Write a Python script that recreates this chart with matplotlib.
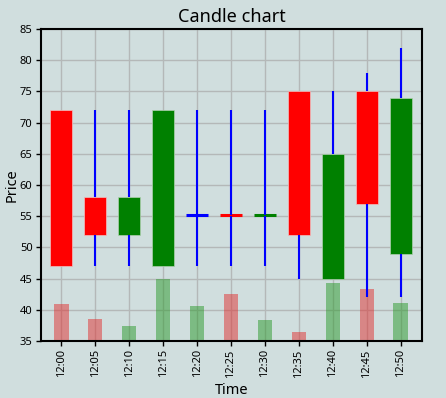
import numpy as np
import matplotlib.pyplot as plt

plt.rcParams['font.family'] = ['Noto Sans', 'DejaVu Sans']

# Data
times = ["12:00", "12:05", "12:10", "12:15", "12:20", "12:25",
         "12:30", "12:35", "12:40", "12:45", "12:50"]
opens = [72, 58, 52, 47, 55.15, 55.2, 55.1, 75, 45, 75, 49]
closes = [47, 52, 58, 72, 55.15, 55.1, 55.2, 52, 65, 57, 74]
highs = [72, 72, 72, 72, 72, 72, 72, 75, 75, 78, 82]
lows = [47, 47, 47, 47, 47, 47, 47, 45, 45, 42, 42]
volumes = [5.9, 3.6, 2.45, 9.9, 5.65, 7.6, 3.3, 1.5, 9.35, 8.4, 6.1]

bg = "#d0dede"
base = 35

x = np.arange(len(times))

fig = plt.figure(figsize=(4.46, 3.98), dpi=100, facecolor=bg)
ax = fig.add_axes([0.0913, 0.1432, 0.8556, 0.7839], facecolor=bg)

# volume bars
vol_colors = []
for o, c in zip(opens, closes):
    vol_colors.append("#e03030" if c < o else "#2a9a2a")
ax.bar(x, volumes, bottom=base, width=0.42, color=vol_colors, alpha=0.5, zorder=2)

# wicks + bodies
for i in x:
    o, c, h, l = opens[i], closes[i], highs[i], lows[i]
    top, bot = max(o, c), min(o, c)
    if c < o:
        col = "red"
    elif c > o:
        col = "green"
    else:
        col = "blue"
    if top - bot < 0.5:
        ax.hlines((top + bot) / 2, i - 0.33, i + 0.33, color=col, lw=2.2, zorder=3)
    else:
        ax.bar(i, top - bot, bottom=bot, width=0.65, color=col,
               edgecolor="#f0c0c0" if col == "red" else "#b0d0b0", linewidth=0.5, zorder=3)
    ax.vlines(i, top, h, color="blue", lw=1.5, zorder=4)
    ax.vlines(i, l, bot, color="blue", lw=1.5, zorder=4)

ax.set_xlim(-0.61, 10.64)
ax.set_ylim(35, 85)
ax.set_xticks(x)
ax.set_xticklabels(times, rotation=90)
ax.set_yticks(np.arange(35, 86, 5))
ax.tick_params(labelsize=8, length=3.5, width=1, pad=2.5)
ax.grid(True, color="#b4b8b8", lw=1, zorder=0)
ax.set_axisbelow(True)
for s in ax.spines.values():
    s.set_linewidth(1.5)

ax.set_title("Candle chart", fontsize=13, pad=5)
ax.set_xlabel("Time", fontsize=10.5)
ax.set_ylabel("Price", fontsize=10.5)
ax.xaxis.set_label_coords(0.5, -0.135)
ax.yaxis.set_label_coords(-0.055, 0.5)

fig.savefig("out.png", dpi=100, facecolor=bg)
